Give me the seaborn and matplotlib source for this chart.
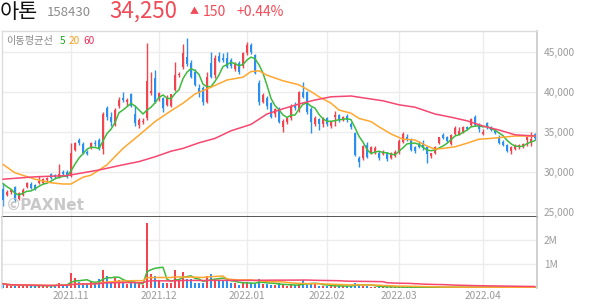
import numpy as np
import pandas as pd
import matplotlib
matplotlib.use("Agg")
import matplotlib.pyplot as plt
import seaborn as sns

# ---------------- data ----------------
opens = [27850,27100,27450,28150,26600,27150,28150,28500,28350,28600,
 28650,29000,29700,29650,29400,30050,30050,29550,32750,34000,
 33450,32550,33150,33650,34000,32850,38050,36850,35900,38250,
 39300,38800,39750,37250,35900,36250,36700,39900,41700,39200,
 39200,38400,38300,40300,42100,43150,44400,43600,42550,40450,
 40450,38800,43600,42100,44500,44200,44200,44000,42850,43600,
 43250,44850,45900,44600,41100,38800,39200,38600,37250,37850,
 35650,36300,36700,38300,37750,39950,39950,37850,36000,36600,
 36000,36700,35800,36850,37100,36600,37050,36000,34850,31800,
 31700,33400,32400,32400,32400,32250,32350,31700,32000,32500,
 33800,34350,34000,33150,33400,33600,33150,32000,32400,33650,
 34600,34350,33500,34750,34750,35050,35650,35900,36850,35950,
 34750,36100,35650,35250,34400,33800,33400,32650,32850,33100,
 33150,34000,33700,34750]
highs = [28600,27750,27900,28300,27500,28000,28700,28700,28500,29550,
 29200,29400,29900,29800,30950,30200,30250,33600,33700,34200,
 33800,32800,33700,34000,34200,37500,38300,37500,38000,39400,
 40050,39200,39900,38400,36700,36700,46100,42500,42750,40000,
 39400,39600,39800,43700,42500,46000,46700,44000,42900,41000,
 40700,42500,45000,44600,45000,44900,45000,44300,43700,43900,
 45000,46300,46100,44800,41500,39900,39500,38800,38000,38100,
 36600,36900,38500,38700,40100,41300,40100,38100,37000,36800,
 36900,36900,36400,37600,37300,37000,37200,36200,35000,32000,
 33400,33700,33300,33200,32600,32700,32500,32500,32700,34100,
 35000,34750,34200,33300,33900,34000,33300,32400,33200,34400,
 34900,34500,34700,35800,35600,35800,35800,36700,37100,36100,
 35400,36200,35800,35400,34600,33950,33500,33200,33500,33500,
 33600,34500,35000,34900]
lows = [25700,27000,27300,26300,26500,27000,28000,27900,27700,28500,
 28550,28800,29100,29200,29300,29650,29300,29400,32600,33400,
 32300,32100,32900,33300,32700,32300,36500,35800,35700,38000,
 38800,38300,38100,35700,35500,36000,36500,39600,38600,38900,
 37500,38200,38100,40100,41900,42900,43300,41700,40700,39400,
 38400,38600,41700,41700,43700,43800,43000,43000,42600,42300,
 43000,44600,44800,42200,38400,38600,37900,36700,36900,36100,
 35000,36000,36500,37700,37500,39200,37300,34850,35800,35200,
 35600,35700,35500,35800,36300,36400,36300,35400,32000,30650,
 31500,31800,32200,32200,31500,32100,31400,31600,31900,32300,
 33600,33900,32600,32400,33000,32800,31150,31800,32300,33500,
 34100,33700,33400,34600,34600,34900,35200,35700,35700,35000,
 34600,35400,35100,34700,33500,33200,32500,32250,32700,32900,
 33000,33300,33300,34000]
closes = [26500,27450,27750,26500,27350,27750,28600,27950,27850,28900,
 29100,29200,29200,29350,29750,29750,29400,32400,33600,33600,
 32400,32250,33600,33500,32850,37250,36850,36250,37750,38950,
 38950,38950,38300,36100,36500,36400,41400,40100,38800,39900,
 37950,39400,39700,42100,42300,44850,43450,41900,40900,39850,
 38800,41900,41900,44200,43900,44000,43150,43250,43450,42550,
 44850,45900,45050,42400,38800,39650,38250,36900,37850,36300,
 36350,36700,38300,37950,39950,39400,37550,36300,36700,36000,
 36700,36000,36300,37100,36600,36850,36500,35650,32100,31200,
 33250,31900,33150,32950,31700,32550,31600,32350,32550,33900,
 34750,34000,32750,32650,33100,32950,32250,32350,33100,34350,
 34200,33900,34600,35450,35150,35650,35350,36600,35900,35350,
 35050,35600,35250,34850,33650,33400,32650,33100,33400,33400,
 33500,34350,34100,34250]
volumes_m = [0.18,0.12,0.10,0.12,0.10,0.10,0.12,0.10,0.08,0.10,
 0.10,0.08,0.10,0.12,0.22,0.12,0.10,0.62,0.42,0.26,
 0.22,0.20,0.25,0.25,0.38,0.75,0.50,0.25,0.40,0.33,
 0.28,0.18,0.20,0.20,0.15,0.13,2.72,0.60,0.50,0.28,
 0.22,0.22,0.20,0.75,0.36,0.67,0.38,0.38,0.22,0.22,
 0.20,0.50,0.58,0.33,0.33,0.33,0.30,0.22,0.22,0.12,
 0.24,0.26,0.20,0.17,0.36,0.17,0.17,0.14,0.14,0.20,
 0.11,0.10,0.11,0.11,0.16,0.33,0.12,0.22,0.15,0.10,
 0.10,0.08,0.08,0.10,0.08,0.07,0.07,0.10,0.22,0.18,
 0.10,0.08,0.06,0.06,0.05,0.04,0.04,0.04,0.03,0.04,
 0.04,0.03,0.04,0.03,0.03,0.04,0.04,0.03,0.03,0.04,
 0.03,0.03,0.04,0.04,0.03,0.03,0.03,0.04,0.04,0.03,
 0.03,0.03,0.03,0.03,0.04,0.03,0.03,0.03,0.03,0.03,
 0.03,0.03,0.03,0.03]

ma5_head = [28550, 28150, 27850, 27350]
ma20_idx = [0,3,8,12,15,17,20,22,26,30,34,38,42,45,48,52,56,60,62,64,66,70,74,77,79,
            82,84,87,89,92,94,97,100,103,106,108,110,113,116,119,122,125,128,133]
ma20_val = [30950,29900,29100,28650,28500,28500,29350,29600,30900,32950,34600,36300,37650,
            38600,39750,40600,41500,41850,42550,42650,42100,41400,40900,40050,39400,
            38600,37750,37350,36700,36300,35650,34750,34100,34000,33250,32850,32950,
            33150,33600,34100,34200,34350,34500,34500]
ma60_idx = [0,8,16,20,24,30,34,38,42,45,49,53,57,62,66,70,74,78,82,87,91,95,99,103,
            108,112,116,120,124,128,133]
ma60_val = [29100,29400,29550,29900,30250,30900,31300,31900,32600,32950,33650,34200,
            35150,35950,37250,37900,38500,39000,39400,39500,39200,38900,38400,38100,
            37250,36850,36400,35750,35250,34650,34500]

month_pos = [17, 39, 61, 81, 99, 120]
month_labels = ["2021.11", "2021.12", "2022.01", "2022.02", "2022.03", "2022.04"]
price_ticks = [25000, 30000, 35000, 40000, 45000]
vol_ticks = [1, 2]
vol_labels = ["1M", "2M"]

# ---------------- style ----------------
sns.set_theme(style="white")
plt.rcParams['font.family'] = ['Noto Sans CJK KR', 'DejaVu Sans']

RED = "#f2434f"
BLUE = "#2b8ef2"
C_MA5 = "#3dbb3d"
C_MA20 = "#ffa72e"
C_MA60 = "#f5476f"
GRID = "#ececec"
TXT = "#9a9a9a"

o = np.array(opens, float); h = np.array(highs, float)
l = np.array(lows, float); c = np.array(closes, float)
v = np.array(volumes_m, float)
n = len(c)
x = np.arange(n)
up = c >= o
cols = np.where(up, RED, BLUE)

df = pd.DataFrame({"x": x, "close": c, "vol": v})
ma5 = df["close"].rolling(5).mean().to_numpy()
ma5[:4] = ma5_head
vma5 = df["vol"].rolling(5, min_periods=1).mean()
vma20 = df["vol"].rolling(20, min_periods=1).mean()
vma60 = df["vol"].rolling(60, min_periods=1).mean()

W, H = 594, 304
fig = plt.figure(figsize=(W/100, H/100), dpi=100)
L, R = 2, 537
ax = fig.add_axes([L/W, (H-217)/H, (R-L)/W, (217-31)/H])
axv = fig.add_axes([L/W, (H-288)/H, (R-L)/W, (288-217)/H], sharex=ax)

# ---------------- price panel ----------------
for yv in price_ticks:
    ax.axhline(yv, color=GRID, lw=1, zorder=0)
for xp in month_pos:
    ax.axvline(xp, color=GRID, lw=1, zorder=0)
    axv.axvline(xp, color=GRID, lw=1, zorder=0)

ax.vlines(x, l, h, colors=cols, lw=1, zorder=2)
body = np.maximum(np.abs(c - o), 80)
ax.bar(x, body, bottom=np.minimum(o, c), width=0.72, color=cols, lw=0, zorder=3)

sns.lineplot(x=x, y=ma5, ax=ax, color=C_MA5, lw=1.1, zorder=4)
sns.lineplot(x=ma20_idx, y=ma20_val, ax=ax, color=C_MA20, lw=1.1, zorder=4)
sns.lineplot(x=ma60_idx, y=ma60_val, ax=ax, color=C_MA60, lw=1.1, zorder=4)

ax.set_xlim(-0.25, 133.5)
ax.set_ylim(24375, 47625)
ax.yaxis.tick_right()
ax.set_yticks(price_ticks)
ax.set_yticklabels([f"{t:,}" for t in price_ticks])
ax.tick_params(axis='y', length=0, pad=5, labelsize=7.3, labelcolor=TXT)
ax.tick_params(axis='x', length=0, labelbottom=False)
ax.set_xlabel(""); ax.set_ylabel("")
for s in ["top", "left"]:
    ax.spines[s].set_color("#dcdcdc"); ax.spines[s].set_linewidth(1)
ax.spines["right"].set_color("#c8c8c8"); ax.spines["right"].set_linewidth(1.2)
ax.spines["bottom"].set_color("#3a3a3a"); ax.spines["bottom"].set_linewidth(1.2)

ax.text(0.008, 0.945, "이동평균선", transform=ax.transAxes, fontsize=7.3, color="#8a8a8a", va="center")
ax.text(0.108, 0.945, "5", transform=ax.transAxes, fontsize=7.3, color="#22aa22", va="center")
ax.text(0.124, 0.945, "20", transform=ax.transAxes, fontsize=7.3, color="#f5a020", va="center")
ax.text(0.153, 0.945, "60", transform=ax.transAxes, fontsize=7.3, color="#ea2f5a", va="center")
ax.text(0.008, 0.06, "©PAXNet", transform=ax.transAxes, fontsize=11, fontweight="bold",
        color="#c8c8c8", va="center", family=["DejaVu Sans"])

# ---------------- volume panel ----------------
for yv in vol_ticks:
    axv.axhline(yv, color=GRID, lw=1, zorder=0)
axv.bar(x, v, width=0.72, color=cols, lw=0, zorder=2)
sns.lineplot(x=x, y=vma5, ax=axv, color=C_MA5, lw=1.1, zorder=3)
sns.lineplot(x=x, y=vma20, ax=axv, color=C_MA20, lw=1.1, zorder=3)
sns.lineplot(x=x, y=vma60, ax=axv, color=C_MA60, lw=1.1, zorder=3)
axv.set_ylim(0, 2.958)
axv.yaxis.tick_right()
axv.set_yticks(vol_ticks)
axv.set_yticklabels(vol_labels)
axv.tick_params(axis='y', length=0, pad=5, labelsize=7.3, labelcolor=TXT)
axv.set_xticks(month_pos)
axv.set_xticklabels(month_labels)
axv.tick_params(axis='x', length=0, pad=2, labelsize=7.3, labelcolor=TXT)
axv.set_xlabel(""); axv.set_ylabel("")
axv.spines["top"].set_visible(False)
axv.spines["bottom"].set_visible(False)
axv.spines["left"].set_color("#dcdcdc")
axv.spines["right"].set_color("#c8c8c8"); axv.spines["right"].set_linewidth(1.2)
axv.set_xlim(-0.25, 133.5)

# ---------------- header ----------------
fig.text(0/W, 1 - 11.5/H, "아톤", fontsize=15, color="#111111", va="center", ha="left")
fig.text(47/W, 1 - 12/H, "158430", fontsize=9.5, color="#8c8c8c", va="center", ha="left")
fig.text(109/W, 1 - 11.5/H, "34,250", fontsize=16, color="#f04b57", va="center", ha="left")
fig.text(190/W, 1 - 12/H, "▲", fontsize=6.5, color="#f04b57", va="center", ha="left")
fig.text(203/W, 1 - 12/H, "150", fontsize=10, color="#f04b57", va="center", ha="left")
fig.text(236/W, 1 - 12/H, "+0.44%", fontsize=10, color="#f04b57", va="center", ha="left")

fig.savefig("out.png", dpi=100, facecolor="white")
